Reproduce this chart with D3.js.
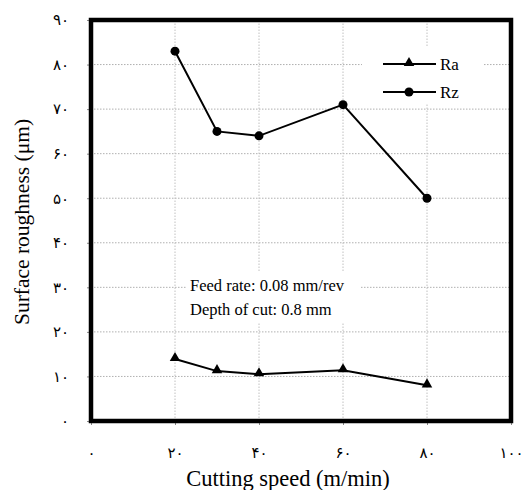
<!DOCTYPE html>
<html>
<head>
<meta charset="utf-8">
<script src="https://cdn.jsdelivr.net/npm/d3@7"></script>
<style>
  body { margin: 0; background: #fff; }
  svg { display: block; }
</style>
</head>
<body>
<svg id="chart" width="523" height="490"></svg>
<script>
const speeds = [20, 30, 40, 60, 80];
const raValues = [13.9, 11.2, 10.5, 11.4, 8.0];
const rzValues = [83, 65, 64, 71, 50];
const xTicks = [0, 20, 40, 60, 80, 100];
const yTicks = [0, 10, 20, 30, 40, 50, 60, 70, 80, 90];
const seriesNames = ["Ra", "Rz"];
const noteLines = ["Feed rate: 0.08 mm/rev", "Depth of cut: 0.8 mm"];
const xTitle = "Cutting speed (m/min)";
const yTitle = "Surface roughness (\u03BCm)";

const toFa = v => String(v).replace(/\d/g, c => String.fromCharCode(0x06F0 + +c));

const svg = d3.select("#chart");
const serif = "'Liberation Serif', 'Times New Roman', serif";
const digitFont = "'Liberation Serif', 'DejaVu Sans', serif";

const x = d3.scaleLinear().domain([0, 100]).range([91, 511]);
const y = d3.scaleLinear().domain([0, 90]).range([421, 20]);

// gridlines
const grid = svg.append("g");
grid.selectAll("line.h").data(yTicks.filter(d => d > 0 && d < 90)).join("line")
  .attr("x1", x(0)).attr("x2", x(100)).attr("y1", d => y(d)).attr("y2", d => y(d))
  .attr("stroke", "#b0b0b0").attr("stroke-width", 1).attr("stroke-dasharray", "1.5,1.5");
grid.selectAll("line.v").data(xTicks.filter(d => d > 0 && d < 100)).join("line")
  .attr("y1", y(0)).attr("y2", y(90)).attr("x1", d => x(d)).attr("x2", d => x(d))
  .attr("stroke", "#c0c0c0").attr("stroke-width", 1).attr("stroke-dasharray", "1.5,1.5");

// axes
const xAxis = svg.append("g").attr("transform", `translate(0,${y(0)})`)
  .call(d3.axisBottom(x).tickValues(xTicks).tickSize(4).tickPadding(22).tickFormat(toFa));
const yAxis = svg.append("g").attr("transform", `translate(${x(0)},0)`)
  .call(d3.axisLeft(y).tickValues(yTicks).tickSize(4).tickPadding(18).tickFormat(toFa));
[xAxis, yAxis].forEach(a => {
  a.select(".domain").remove();
  a.selectAll(".tick line").attr("stroke", "#888");
  a.selectAll(".tick text").attr("font-family", digitFont).attr("font-size", 15).attr("fill", "#000");
});

// note box
const noteG = svg.append("g");
noteG.append("rect").attr("x", 186).attr("y", 272).attr("width", 174).attr("height", 50).attr("fill", "#fff");
noteG.selectAll("text").data(noteLines).join("text")
  .attr("x", 190).attr("y", (d, i) => 291 + i * 23.5)
  .attr("font-family", serif).attr("font-size", 16.5).attr("fill", "#000").text(d => d);

// series
const line = d3.line().x(d => x(d[0])).y(d => y(d[1]));
const raData = speeds.map((s, i) => [s, raValues[i]]);
const rzData = speeds.map((s, i) => [s, rzValues[i]]);
const tri = d3.symbol().type(d3.symbolTriangle).size(48);

svg.append("path").datum(raData).attr("d", line).attr("fill", "none").attr("stroke", "#000").attr("stroke-width", 2);
svg.append("path").datum(rzData).attr("d", line).attr("fill", "none").attr("stroke", "#000").attr("stroke-width", 2);
svg.selectAll("path.ra").data(raData).join("path").attr("class", "ra")
  .attr("d", tri).attr("transform", d => `translate(${x(d[0])},${y(d[1]) - 1})`).attr("fill", "#000");
svg.selectAll("circle.rz").data(rzData).join("circle").attr("class", "rz")
  .attr("cx", d => x(d[0])).attr("cy", d => y(d[1])).attr("r", 4.5).attr("fill", "#000");

// legend
const leg = svg.append("g");
leg.append("rect").attr("x", 362).attr("y", 46).attr("width", 122).attr("height", 58).attr("fill", "#fff");
const legY = [64, 92];
seriesNames.forEach((name, i) => {
  leg.append("line").attr("x1", 383).attr("x2", 436).attr("y1", legY[i]).attr("y2", legY[i])
    .attr("stroke", "#000").attr("stroke-width", 2);
  if (i === 0) {
    leg.append("path").attr("d", tri).attr("transform", `translate(409,${legY[i] - 1})`).attr("fill", "#000");
  } else {
    leg.append("circle").attr("cx", 409).attr("cy", legY[i]).attr("r", 4.5).attr("fill", "#000");
  }
  leg.append("text").attr("x", 440).attr("y", legY[i] + 6).attr("font-family", serif).attr("font-size", 17)
    .attr("fill", "#000").text(name);
});

// frame
svg.append("rect").attr("x", x(0)).attr("y", y(90)).attr("width", x(100) - x(0)).attr("height", y(0) - y(90))
  .attr("fill", "none").attr("stroke", "#000").attr("stroke-width", 4.5);

// titles
svg.append("text").attr("x", 288).attr("y", 486).attr("text-anchor", "middle")
  .attr("font-family", serif).attr("font-size", 22.5).attr("fill", "#000").text(xTitle);
svg.append("text").attr("transform", "translate(29,222) rotate(-90)").attr("text-anchor", "middle")
  .attr("font-family", serif).attr("font-size", 21.5).attr("fill", "#000").text(yTitle);
</script>
</body>
</html>
